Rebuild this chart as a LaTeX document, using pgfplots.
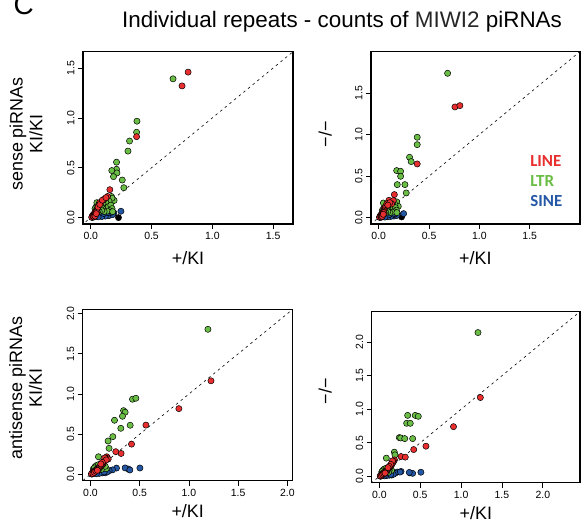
\documentclass[border=0pt]{standalone}
\usepackage{fontspec}
\setmainfont{Liberation Sans}
\newfontfamily\legfont{Carlito}
\usepackage{pgfplots}
\pgfplotsset{compat=1.18}

\definecolor{cline}{RGB}{232,46,46}
\definecolor{cltr}{RGB}{106,189,69}
\definecolor{csine}{RGB}{36,88,165}

\pgfplotsset{
  panel/.style={
    scale only axis,
    axis line style={line width=1.4bp},
    tick align=outside,
    major tick length=5bp,
    every tick/.style={black, line width=0.8bp},
    xtick pos=left, ytick pos=left,
    ticklabel style={font=\fontsize{10.5}{12}\selectfont},
    /pgf/number format/fixed,
    /pgf/number format/fixed zerofill,
    /pgf/number format/precision=1,
    /pgf/number format/assume math mode=true,
    yticklabel style={rotate=90, anchor=south},
    label style={font=\fontsize{18}{20}\selectfont},
    xlabel={+/KI},
  },
  dots/.style={only marks, mark=*, mark size=3.1bp,
    mark options={fill=#1, draw=black, line width=0.5bp}},
  diag/.style={black, line width=0.6bp, dash pattern=on 2.5bp off 3.5bp},
}

\begin{document}
\begin{tikzpicture}
\clip (0,0) rectangle (581bp,525bp);

\node[font=\fontsize{28}{30}\selectfont, anchor=base west] at (10bp,510bp) {C};
\node[font=\fontsize{22.5}{26}\selectfont, anchor=base] at (342bp,497bp)
  {Individual repeats - counts of \textcolor{black!85}{MIWI2} piRNAs};

% top left: sense, KI/KI vs +/KI
\begin{axis}[panel, at={(83bp,301bp)}, anchor=south west,
  width=210bp, height=172.3bp,
  xmin=-0.064, xmax=1.664, ymin=-0.064, ymax=1.664,
  xtick={0,0.5,1,1.5}, ytick={0,0.5,1,1.5},
  xlabel style={at={(axis description cs:0.5,-0.2)}, anchor=center},
  ylabel={sense piRNAs\\KI/KI},
  ylabel style={align=center, at={(axis description cs:-0.271,0.522)}, anchor=center}]
\addplot[diag] coordinates {(-0.5,-0.5) (3,3)};
\addplot[dots=black] coordinates {(0.228,0.000)};
\addplot[dots=csine] coordinates {
(0.248,0.064) (0.190,0.048) (0.175,0.042) (0.160,0.040) (0.145,0.036)
(0.130,0.034) (0.115,0.030) (0.100,0.028) (0.085,0.024) (0.070,0.020)
(0.055,0.016) (0.040,0.012) (0.030,0.008) (0.020,0.005) (0.012,0.003)
(0.150,0.020) (0.120,0.015) (0.090,0.010) (0.060,0.008) (0.180,0.030)
(0.165,0.052) (0.140,0.050) (0.105,0.042)};
\addplot[dots=cltr] coordinates {
(0.677,1.392) (0.380,0.967) (0.377,0.856) (0.319,0.768) (0.306,0.667)
(0.212,0.556) (0.212,0.485) (0.173,0.472) (0.215,0.448) (0.187,0.411)
(0.259,0.377) (0.272,0.300) (0.170,0.212) (0.192,0.172) (0.175,0.195)
(0.150,0.165) (0.125,0.150) (0.100,0.140) (0.080,0.130) (0.060,0.125)
(0.045,0.110) (0.035,0.090) (0.050,0.150) (0.075,0.105) (0.100,0.095)
(0.125,0.085) (0.145,0.110) (0.165,0.125) (0.175,0.090) (0.155,0.070)
(0.135,0.065) (0.110,0.060) (0.090,0.070) (0.070,0.060) (0.055,0.055)
(0.040,0.045) (0.028,0.035) (0.020,0.025) (0.180,0.060)};
\addplot[dots=cline] coordinates {
(0.801,1.459) (0.751,1.321) (0.377,0.812) (0.157,0.280) (0.138,0.212)
(0.110,0.185) (0.088,0.160) (0.072,0.150) (0.062,0.120) (0.055,0.095)
(0.048,0.080) (0.042,0.065) (0.036,0.052) (0.030,0.042) (0.025,0.032)
(0.020,0.025) (0.015,0.018) (0.012,0.012) (0.010,0.006) (0.008,0.003)
(0.030,0.020) (0.040,0.030) (0.050,0.060) (0.060,0.105) (0.075,0.132)
(0.020,0.010) (0.025,0.008) (0.035,0.015) (0.045,0.040) (0.095,0.175)
(0.125,0.200)};
\end{axis}

% top right: sense, -/- vs +/KI
\begin{axis}[panel, at={(371bp,301bp)}, anchor=south west,
  width=208.8bp, height=172.3bp,
  xmin=-0.077, xmax=1.997, ymin=-0.077, ymax=1.997,
  xtick={0,0.5,1,1.5}, ytick={0,0.5,1,1.5},
  xlabel style={at={(axis description cs:0.5,-0.2)}, anchor=center},
  ylabel={−/−},
  ylabel style={at={(axis description cs:-0.219,0.522)}, anchor=center}]
\addplot[diag] coordinates {(-0.5,-0.5) (3,3)};
\addplot[dots=black] coordinates {(0.227,0.008)};
\addplot[dots=csine] coordinates {
(0.247,0.048) (0.190,0.040) (0.175,0.038) (0.160,0.036) (0.145,0.034)
(0.130,0.032) (0.115,0.030) (0.100,0.026) (0.085,0.022) (0.070,0.018)
(0.055,0.014) (0.040,0.010) (0.030,0.008) (0.020,0.005) (0.012,0.003)
(0.150,0.018) (0.120,0.014) (0.090,0.010) (0.060,0.006) (0.180,0.026)
(0.165,0.046) (0.140,0.044) (0.105,0.038)};
\addplot[dots=cltr] coordinates {
(0.684,1.737) (0.382,0.967) (0.382,0.878) (0.306,0.726) (0.322,0.674)
(0.178,0.566) (0.217,0.557) (0.217,0.497) (0.184,0.397) (0.260,0.397)
(0.273,0.297) (0.046,0.176) (0.178,0.189) (0.194,0.136) (0.160,0.160)
(0.140,0.150) (0.120,0.140) (0.100,0.130) (0.080,0.125) (0.060,0.120)
(0.045,0.105) (0.035,0.085) (0.075,0.100) (0.100,0.095) (0.125,0.085)
(0.145,0.110) (0.165,0.120) (0.175,0.090) (0.155,0.070) (0.135,0.065)
(0.110,0.060) (0.090,0.070) (0.070,0.060) (0.055,0.055) (0.040,0.045)
(0.028,0.035) (0.020,0.025) (0.180,0.060)};
\addplot[dots=cline] coordinates {
(0.757,1.332) (0.806,1.348) (0.382,0.646) (0.155,0.277) (0.102,0.209)
(0.145,0.205) (0.079,0.165) (0.128,0.165) (0.065,0.130) (0.058,0.110)
(0.052,0.092) (0.046,0.078) (0.040,0.064) (0.034,0.052) (0.028,0.042)
(0.022,0.032) (0.017,0.024) (0.013,0.016) (0.010,0.008) (0.008,0.003)
(0.030,0.020) (0.040,0.030) (0.050,0.060) (0.020,0.010) (0.025,0.008)
(0.035,0.015) (0.045,0.040) (0.110,0.180) (0.090,0.150)};
\node[font=\legfont\bfseries\fontsize{17}{19}\selectfont, text=cline,
  anchor=base west, inner sep=0pt] at (rel axis cs:0.762,0.331) {LINE};
\node[font=\legfont\bfseries\fontsize{17}{19}\selectfont, text=cltr,
  anchor=base west, inner sep=0pt] at (rel axis cs:0.762,0.215) {LTR};
\node[font=\legfont\bfseries\fontsize{17}{19}\selectfont, text=csine,
  anchor=base west, inner sep=0pt] at (rel axis cs:0.762,0.104) {SINE};
\end{axis}

% bottom left: antisense, KI/KI vs +/KI
\begin{axis}[panel, at={(82.7bp,44.3bp)}, anchor=south west,
  width=210bp, height=171.4bp,
  xmin=-0.079, xmax=2.054, ymin=-0.079, ymax=2.054,
  xtick={0,0.5,1,1.5,2}, ytick={0,0.5,1,1.5,2},
  xlabel style={at={(axis description cs:0.5,-0.18)}, anchor=center},
  ylabel={antisense piRNAs\\KI/KI},
  ylabel style={align=center, at={(axis description cs:-0.272,0.541)}, anchor=center}]
\addplot[diag] coordinates {(-0.5,-0.5) (3,3)};
\addplot[dots=csine] coordinates {
(0.502,0.079) (0.386,0.066) (0.352,0.080) (0.400,0.054) (0.264,0.078)
(0.224,0.056) (0.190,0.045) (0.160,0.040) (0.130,0.040) (0.100,0.035)
(0.080,0.030) (0.060,0.025) (0.045,0.018) (0.030,0.012) (0.020,0.006)
(0.012,0.003) (0.150,0.020) (0.120,0.018) (0.090,0.012) (0.060,0.008)
(0.170,0.030) (0.140,0.030)};
\addplot[dots=cltr] coordinates {
(1.193,1.805) (0.427,0.935) (0.461,0.947) (0.336,0.793) (0.352,0.773)
(0.325,0.723) (0.244,0.673) (0.403,0.611) (0.308,0.573) (0.227,0.469)
(0.179,0.415) (0.189,0.324) (0.081,0.219) (0.047,0.095) (0.030,0.070)
(0.060,0.110) (0.080,0.120) (0.100,0.100) (0.120,0.090) (0.140,0.080)
(0.160,0.070) (0.110,0.060) (0.090,0.070) (0.070,0.060) (0.050,0.050)
(0.035,0.040) (0.025,0.030) (0.130,0.120) (0.150,0.100) (0.040,0.080)};
\addplot[dots=cline] coordinates {
(1.224,1.164) (0.898,0.818) (0.563,0.613) (0.417,0.376) (0.311,0.260)
(0.257,0.282) (0.166,0.219) (0.155,0.205) (0.150,0.185) (0.140,0.170)
(0.135,0.155) (0.130,0.140) (0.125,0.125) (0.115,0.115) (0.100,0.100)
(0.090,0.090) (0.080,0.080) (0.070,0.070) (0.060,0.060) (0.050,0.050)
(0.040,0.040) (0.030,0.030) (0.020,0.020) (0.015,0.012) (0.010,0.006)
(0.025,0.010) (0.040,0.025) (0.055,0.040) (0.070,0.050) (0.180,0.190)
(0.145,0.205) (0.160,0.180) (0.120,0.150) (0.105,0.130)};
\end{axis}

% bottom right: antisense, -/- vs +/KI
\begin{axis}[panel, at={(371.7bp,42.3bp)}, anchor=south west,
  width=208.2bp, height=171bp,
  xmin=-0.094, xmax=2.454, ymin=-0.094, ymax=2.454,
  xtick={0,0.5,1,1.5,2}, ytick={0,0.5,1,1.5,2},
  xlabel style={at={(axis description cs:0.5,-0.18)}, anchor=center},
  ylabel={−/−},
  ylabel style={at={(axis description cs:-0.223,0.536)}, anchor=center}]
\addplot[diag] coordinates {(-0.5,-0.5) (3,3)};
\addplot[dots=csine] coordinates {
(0.508,0.062) (0.374,0.052) (0.407,0.045) (0.366,0.059) (0.265,0.074)
(0.218,0.064) (0.252,0.064) (0.190,0.045) (0.160,0.040) (0.130,0.040)
(0.100,0.035) (0.080,0.030) (0.060,0.025) (0.045,0.018) (0.030,0.012)
(0.020,0.006) (0.012,0.003) (0.150,0.020) (0.120,0.018) (0.090,0.012)
(0.060,0.008) (0.170,0.030) (0.140,0.030)};
\addplot[dots=cltr] coordinates {
(1.207,2.143) (0.346,0.909) (0.439,0.909) (0.476,0.895) (0.334,0.791)
(0.378,0.791) (0.244,0.578) (0.260,0.573) (0.310,0.563) (0.407,0.563)
(0.183,0.361) (0.191,0.321) (0.085,0.272) (0.134,0.124) (0.150,0.090)
(0.047,0.095) (0.030,0.070) (0.060,0.110) (0.080,0.120) (0.100,0.100)
(0.120,0.090) (0.110,0.060) (0.090,0.070) (0.070,0.060) (0.050,0.050)
(0.035,0.040) (0.025,0.030) (0.040,0.080)};
\addplot[dots=cline] coordinates {
(1.236,1.175) (0.907,0.741) (0.570,0.450) (0.420,0.400) (0.265,0.296)
(0.317,0.287) (0.185,0.245) (0.175,0.225) (0.165,0.205) (0.155,0.185)
(0.145,0.165) (0.135,0.150) (0.125,0.135) (0.115,0.120) (0.100,0.105)
(0.090,0.090) (0.080,0.080) (0.070,0.070) (0.060,0.060) (0.050,0.050)
(0.040,0.040) (0.030,0.030) (0.020,0.020) (0.015,0.012) (0.010,0.006)
(0.025,0.010) (0.040,0.025) (0.055,0.040) (0.070,0.050) (0.160,0.230)
(0.140,0.180) (0.120,0.150) (0.105,0.130)};
\end{axis}
\end{tikzpicture}
\end{document}
